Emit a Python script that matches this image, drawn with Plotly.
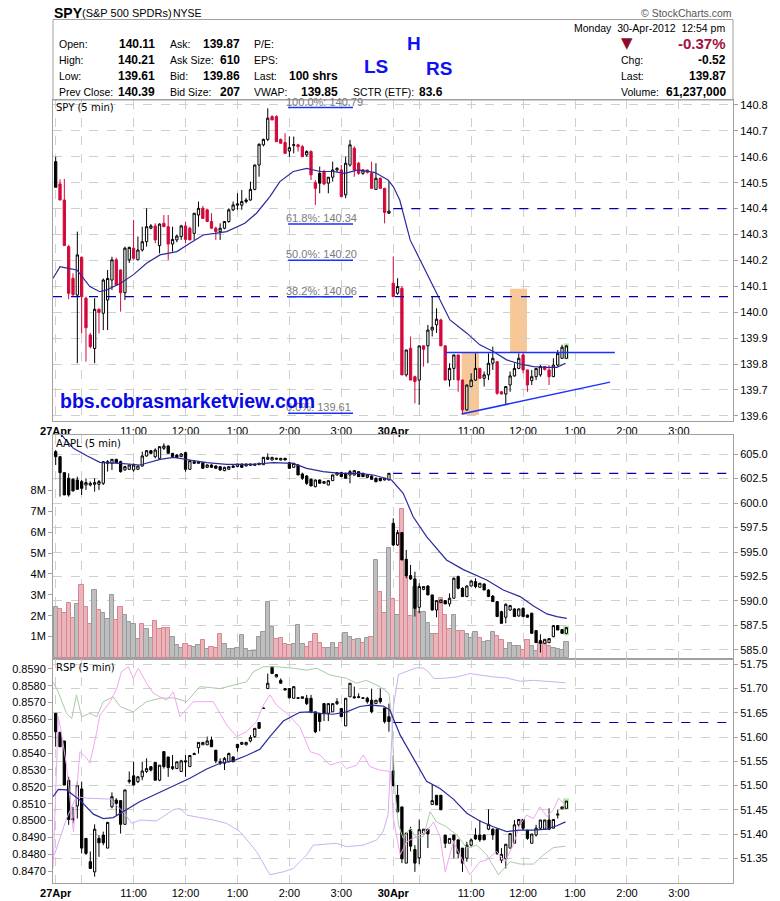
import plotly.graph_objects as go

# the page keeps an 8px body margin, so the figure is 8px smaller each way
W, H = 772, 893
OFF = 8

# ---------------- data ----------------
# x axis: 5-minute bars, 27 Apr 9:30 = bar 0, 30 Apr 9:30 = bar 78
tick_bars = [0, 6, 18, 30, 42, 54, 66, 78, 84, 96, 108, 120, 132, 144]
tick_text = ['<b>27Apr</b>', '', '11:00', '12:00', '1:00', '2:00', '3:00',
             '<b>30Apr</b>', '', '11:00', '12:00', '1:00', '2:00', '3:00']

# SPY (5 min) open, high, low, close
spy_ohlc = [
    (140.581, 140.600, 140.482, 140.482), (140.495, 140.513, 140.433, 140.433),
    (140.433, 140.514, 140.257, 140.257), (140.253, 140.260, 140.050, 140.073),
    (140.131, 140.150, 140.060, 140.068), (140.066, 140.311, 139.803, 140.221),
    (140.212, 140.215, 139.918, 140.060), (140.054, 140.060, 139.809, 139.940),
    (139.912, 139.920, 139.860, 139.867), (139.860, 140.054, 139.803, 140.011),
    (140.011, 140.015, 139.918, 139.999), (139.996, 140.130, 139.931, 140.124),
    (140.047, 140.163, 139.931, 140.130), (140.124, 140.214, 140.086, 140.202),
    (140.202, 140.210, 140.105, 140.105), (140.163, 140.165, 140.002, 140.075),
    (140.075, 140.253, 140.047, 140.247), (140.202, 140.253, 140.190, 140.250),
    (140.247, 140.356, 140.202, 140.208), (140.202, 140.292, 140.200, 140.240),
    (140.240, 140.330, 140.234, 140.272), (140.272, 140.401, 140.253, 140.330),
    (140.324, 140.340, 140.320, 140.333), (140.333, 140.343, 140.266, 140.279),
    (140.257, 140.343, 140.227, 140.340), (140.343, 140.375, 140.330, 140.330),
    (140.330, 140.375, 140.202, 140.263), (140.263, 140.330, 140.234, 140.281),
    (140.279, 140.300, 140.270, 140.294), (140.292, 140.337, 140.279, 140.333),
    (140.333, 140.350, 140.266, 140.281), (140.324, 140.330, 140.279, 140.279),
    (140.304, 140.382, 140.279, 140.382), (140.375, 140.427, 140.330, 140.401),
    (140.401, 140.410, 140.362, 140.362), (140.395, 140.400, 140.350, 140.350),
    (140.350, 140.382, 140.324, 140.324), (140.324, 140.330, 140.279, 140.311),
    (140.311, 140.343, 140.279, 140.324), (140.324, 140.350, 140.320, 140.350),
    (140.350, 140.401, 140.345, 140.395), (140.395, 140.427, 140.390, 140.414),
    (140.413, 140.459, 140.395, 140.418), (140.413, 140.472, 140.395, 140.427),
    (140.427, 140.440, 140.420, 140.433), (140.433, 140.504, 140.430, 140.474),
    (140.474, 140.570, 140.470, 140.568), (140.568, 140.652, 140.523, 140.648),
    (140.646, 140.670, 140.640, 140.667), (140.667, 140.787, 140.660, 140.749),
    (140.755, 140.760, 140.742, 140.742), (140.755, 140.760, 140.658, 140.658),
    (140.667, 140.670, 140.652, 140.652), (140.655, 140.691, 140.613, 140.613),
    (140.622, 140.678, 140.600, 140.635), (140.644, 140.678, 140.613, 140.646),
    (140.646, 140.650, 140.620, 140.639), (140.639, 140.645, 140.600, 140.600),
    (140.607, 140.625, 140.600, 140.620), (140.620, 140.625, 140.510, 140.530),
    (140.500, 140.510, 140.414, 140.478), (140.536, 140.562, 140.459, 140.498),
    (140.543, 140.550, 140.490, 140.495), (140.498, 140.521, 140.459, 140.521),
    (140.521, 140.581, 140.504, 140.549), (140.549, 140.560, 140.540, 140.555),
    (140.549, 140.568, 140.446, 140.446), (140.453, 140.600, 140.440, 140.575),
    (140.568, 140.665, 140.562, 140.646), (140.633, 140.640, 140.523, 140.549),
    (140.575, 140.580, 140.530, 140.536), (140.536, 140.550, 140.530, 140.549),
    (140.549, 140.550, 140.535, 140.540), (140.536, 140.581, 140.478, 140.478),
    (140.474, 140.575, 140.472, 140.517), (140.517, 140.520, 140.478, 140.478),
    (140.478, 140.480, 140.343, 140.385), (140.382, 140.504, 140.380, 140.390),
    # 30 Apr
    (140.112, 140.215, 140.060, 140.060), (140.073, 140.131, 140.067, 140.099),
    (140.092, 140.100, 139.758, 139.758), (139.758, 139.855, 139.751, 139.854),
    (139.861, 139.906, 139.738, 139.738), (139.751, 139.755, 139.648, 139.732),
    (139.738, 139.870, 139.642, 139.870), (139.870, 139.872, 139.790, 139.857),
    (139.870, 139.951, 139.803, 139.931), (139.931, 140.060, 139.906, 139.942),
    (139.951, 140.015, 139.920, 139.973), (139.970, 139.975, 139.870, 139.870),
    (139.870, 139.872, 139.738, 139.738), (139.738, 139.803, 139.713, 139.783),
    (139.783, 139.835, 139.738, 139.835), (139.835, 139.836, 139.693, 139.738),
    (139.738, 139.740, 139.610, 139.623), (139.623, 139.720, 139.620, 139.719),
    (139.713, 139.764, 139.710, 139.738), (139.738, 139.841, 139.735, 139.783),
    (139.783, 139.785, 139.745, 139.745), (139.745, 139.771, 139.713, 139.758),
    (139.758, 139.841, 139.738, 139.803), (139.803, 139.867, 139.777, 139.822),
    (139.809, 139.810, 139.681, 139.687), (139.693, 139.695, 139.683, 139.684),
    (139.684, 139.713, 139.642, 139.713), (139.719, 139.771, 139.693, 139.754),
    (139.754, 139.803, 139.751, 139.783), (139.783, 139.841, 139.780, 139.822),
    (139.835, 139.841, 139.764, 139.777), (139.777, 139.778, 139.693, 139.719),
    (139.736, 139.777, 139.719, 139.751), (139.751, 139.783, 139.738, 139.783),
    (139.758, 139.796, 139.751, 139.790), (139.790, 139.792, 139.775, 139.779),
    (139.777, 139.796, 139.719, 139.751), (139.751, 139.822, 139.750, 139.796),
    (139.796, 139.854, 139.790, 139.841), (139.822, 139.874, 139.820, 139.865),
    (139.822, 139.874, 139.820, 139.870),
]

spy_ma_bar = [-0.6, 1.0, 2.9, 4.9, 7.9, 10.2, 11.8, 14.9, 17.9, 21.0, 24.1, 28.0, 31.0,
              34.1, 36.8, 39.5, 43.7, 46.4, 49.5, 51.8, 54.9, 58.0, 61.1, 64.1, 66.8,
              69.9, 73.8, 76.8, 78.0, 79.5, 81.9, 85.0, 88.0, 91.1, 95.0, 98.0, 101.1,
              104.2, 107.3, 110.4, 113.5, 115.8, 117.8]
spy_ma_val = [140.131, 140.176, 140.169, 140.163, 140.099, 140.079, 140.086, 140.111,
              140.144, 140.189, 140.221, 140.234, 140.266, 140.298, 140.304, 140.311,
              140.343, 140.382, 140.446, 140.504, 140.543, 140.555, 140.543, 140.543,
              140.536, 140.549, 140.539, 140.510, 140.485, 140.433, 140.279, 140.176,
              140.073, 139.970, 139.919, 139.874, 139.848, 139.816, 139.800, 139.790,
              139.787, 139.787, 139.803]

fib_levels = [140.79, 140.34, 140.20, 140.06, 139.61]
fib_names = ['100.0%', '61.8%', '50.0%', '38.2%', '0.0%']
spy_prev_close = 140.40
neckline = 139.844
trend_bars = [93.8, 128.1]
trend_vals = [139.607, 139.730]
box_bars = [(93.8, 97.8), (105.0, 108.9)]
box_vals = [(139.603, 139.844), (139.844, 140.090)]

# AAPL (5 min)
aapl_ohlc = [
    (605.24, 605.41, 603.88, 604.73), (604.73, 604.73, 600.65, 603.10),
    (603.10, 603.10, 600.82, 600.82), (602.52, 603.03, 600.65, 600.82),
    (602.42, 602.52, 601.20, 601.23), (602.35, 602.69, 601.33, 601.40),
    (602.18, 602.35, 600.82, 601.50), (601.84, 602.52, 601.33, 602.08),
    (601.84, 602.20, 601.70, 602.01), (601.91, 602.52, 601.16, 602.08),
    (601.91, 602.35, 601.33, 602.18), (602.01, 604.22, 601.84, 604.22),
    (604.05, 604.39, 603.20, 604.22), (604.05, 604.46, 603.37, 604.46),
    (604.46, 604.50, 604.10, 604.12), (604.22, 604.32, 603.10, 603.20),
    (603.37, 603.80, 603.30, 603.71), (603.44, 603.90, 603.40, 603.88),
    (603.37, 604.05, 603.20, 603.88), (603.44, 603.80, 603.40, 603.78),
    (603.78, 605.24, 603.71, 604.80), (604.80, 605.41, 604.73, 605.34),
    (605.34, 605.40, 605.00, 605.07), (604.73, 605.58, 604.56, 605.41),
    (604.56, 605.80, 604.50, 605.75), (605.58, 606.09, 605.41, 605.82),
    (605.82, 605.90, 605.07, 605.07), (605.07, 605.10, 604.73, 604.73),
    (604.90, 605.00, 604.60, 604.66), (604.73, 605.10, 604.70, 605.00),
    (605.14, 605.24, 603.20, 603.44), (603.44, 604.40, 603.40, 604.32),
    (604.22, 604.30, 604.00, 604.05), (604.05, 604.30, 604.00, 604.22),
    (604.12, 604.20, 603.50, 603.54), (603.64, 603.95, 603.60, 603.88),
    (603.88, 603.95, 603.60, 603.64), (603.78, 603.85, 603.50, 603.54),
    (603.71, 603.75, 603.30, 603.37), (603.30, 603.70, 603.25, 603.64),
    (603.44, 603.75, 603.40, 603.71), (603.78, 603.85, 603.60, 603.64),
    (603.71, 604.00, 603.65, 603.98), (603.98, 604.00, 603.60, 603.64),
    (603.78, 604.00, 603.75, 603.98), (603.84, 604.00, 603.80, 603.98),
    (603.84, 604.00, 603.80, 603.98), (603.91, 604.10, 603.90, 604.05),
    (603.91, 604.70, 603.90, 604.66), (604.46, 605.07, 604.39, 604.66),
    (604.39, 604.70, 604.35, 604.66), (604.46, 604.60, 604.40, 604.56),
    (604.39, 604.60, 604.35, 604.56), (604.56, 604.60, 604.39, 604.39),
    (604.12, 604.20, 603.50, 603.54), (603.64, 604.10, 603.60, 604.05),
    (603.88, 603.95, 602.86, 602.86), (602.96, 603.10, 602.35, 602.52),
    (602.76, 602.86, 601.84, 602.01), (602.42, 602.50, 601.74, 601.74),
    (601.67, 602.40, 601.60, 602.35), (602.35, 602.40, 602.00, 602.01),
    (602.01, 602.20, 601.95, 602.18), (601.84, 602.30, 601.80, 602.28),
    (602.28, 602.90, 602.25, 602.86), (602.86, 603.15, 602.80, 603.10),
    (603.10, 603.15, 602.69, 602.69), (603.03, 603.10, 602.52, 602.52),
    (602.86, 603.37, 602.01, 603.20), (602.86, 603.35, 602.80, 603.30),
    (603.20, 603.25, 602.69, 602.69), (603.03, 603.10, 602.65, 602.69),
    (602.62, 602.90, 602.55, 602.86), (602.76, 602.80, 602.40, 602.42),
    (602.52, 602.60, 602.10, 602.18), (602.52, 602.55, 602.20, 602.28),
    (602.35, 602.55, 602.30, 602.52), (602.35, 603.05, 602.30, 603.03),
    # 30 Apr
    (597.93, 598.44, 595.62, 595.72), (595.72, 597.25, 595.62, 596.98),
    (596.98, 597.00, 594.19, 594.19), (594.25, 595.21, 592.32, 592.59),
    (592.59, 593.68, 592.15, 592.25), (592.25, 592.99, 588.41, 589.25),
    (589.36, 591.81, 588.75, 591.47), (591.19, 591.50, 591.10, 591.47),
    (591.53, 591.60, 590.62, 590.62), (590.62, 590.62, 589.02, 589.08),
    (589.08, 590.04, 588.34, 590.04), (589.83, 590.11, 589.80, 590.11),
    (590.04, 590.10, 589.70, 589.70), (589.70, 590.78, 589.43, 590.28),
    (590.28, 592.40, 590.28, 592.32), (592.49, 592.59, 591.19, 591.30),
    (591.30, 591.40, 590.45, 590.45), (590.45, 591.60, 590.40, 591.53),
    (591.53, 592.10, 591.50, 592.04), (591.98, 592.32, 591.30, 591.47),
    (591.40, 591.85, 591.35, 591.81), (591.74, 591.80, 591.12, 591.12),
    (591.12, 591.20, 590.40, 590.45), (590.50, 590.60, 589.90, 589.94),
    (589.94, 590.00, 588.41, 588.41), (588.91, 589.00, 587.72, 587.72),
    (588.34, 589.76, 587.72, 589.66), (589.08, 589.60, 589.00, 589.53),
    (589.19, 589.25, 588.41, 588.41), (588.47, 589.25, 588.40, 589.19),
    (589.25, 589.35, 588.41, 588.41), (588.57, 588.60, 588.34, 588.34),
    (588.75, 588.80, 586.70, 586.70), (586.98, 587.00, 585.75, 585.75),
    (585.96, 586.60, 584.73, 585.68), (585.68, 586.10, 585.60, 586.09),
    (585.75, 586.20, 585.70, 586.16), (586.36, 587.50, 586.30, 587.49),
    (587.49, 587.55, 587.04, 587.04), (587.08, 587.10, 586.70, 586.70),
    (586.70, 587.30, 586.60, 587.28),
]

# AAPL volume, millions of shares; p = down bar (pink), g = up bar (grey)
aapl_volume = [
    2.43, 2.32, 2.12, 2.60, 1.88, 2.56, 3.47, 2.43, 1.59, 3.22,
    2.26, 2.12, 1.85, 2.99, 1.80, 2.40, 2.04, 1.69, 1.59, 0.87,
    1.59, 1.35, 0.92, 1.75, 1.35, 1.40, 1.40, 0.97, 0.60, 0.44,
    0.67, 0.55, 0.52, 0.60, 0.82, 0.43, 0.49, 0.44, 1.13, 0.65,
    0.39, 0.41, 0.44, 1.06, 0.43, 0.33, 0.33, 1.00, 1.24, 2.66,
    1.45, 0.87, 0.92, 0.63, 0.58, 0.63, 1.54, 0.65, 0.52, 0.76,
    1.13, 0.68, 0.44, 0.44, 0.68, 0.44, 0.68, 1.19, 0.97, 0.82,
    0.89, 0.68, 0.92, 0.97, 4.65, 3.12, 2.15, 5.22,
    2.80, 2.04, 7.09, 3.92, 2.00, 3.36, 2.20, 2.20, 1.64, 1.11,
    1.11, 2.83, 2.04, 1.35, 2.04, 1.28, 1.28, 1.11, 0.92, 1.21,
    0.92, 0.73, 0.81, 1.21, 1.05, 0.84, 0.39, 0.68, 0.56, 0.56,
    0.36, 0.84, 0.56, 0.33, 0.68, 0.76, 0.56, 0.44, 0.39, 0.36,
    0.75,
]
aapl_vol_dir = ('gppppgpppg' 'pgggppgggg' 'pggppppggg' 'ppggpgpppg' 'gggggggggg'
                'gppppgggpp' 'pppgggpggp' 'gpgpgppg'
                'pgpppgpggg' 'ppppgppggg' 'pgggppgggg' 'ppggpppggg' 'g')

aapl_ma_bar = [1.0, 4.1, 7.2, 10.2, 14.9, 19.5, 24.1, 27.2, 31.0, 34.9, 39.5, 45.7, 50.3,
               54.9, 58.0, 61.8, 65.7, 70.3, 73.4, 77.6, 80.3, 82.6, 85.7, 90.3, 94.2,
               98.0, 99.6, 103.4, 107.3, 110.4, 113.5, 115.8, 118.1]
aapl_ma_val = [607.10, 605.58, 604.83, 604.15, 604.05, 603.88, 604.46, 604.66, 604.39,
               604.12, 603.95, 603.95, 604.12, 604.05, 603.54, 603.20, 603.03, 603.03,
               602.86, 602.35, 600.99, 598.60, 596.57, 594.19, 593.20, 592.49, 592.15,
               591.12, 590.45, 589.50, 588.68, 588.40, 588.23]
aapl_prev_close = 603.03

# RSP (5 min)
rsp_ohlc = [
    (51.649, 51.649, 51.580, 51.611), (51.610, 51.610, 51.580, 51.580),
    (51.592, 51.592, 51.501, 51.501), (51.511, 51.518, 51.419, 51.430),
    (51.432, 51.456, 51.422, 51.429), (51.458, 51.508, 51.432, 51.500),
    (51.493, 51.508, 51.360, 51.371), (51.391, 51.391, 51.357, 51.360),
    (51.343, 51.364, 51.329, 51.329), (51.322, 51.420, 51.312, 51.410),
    (51.391, 51.398, 51.353, 51.382), (51.398, 51.405, 51.377, 51.382),
    (51.371, 51.425, 51.371, 51.424), (51.456, 51.486, 51.453, 51.477),
    (51.470, 51.474, 51.439, 51.463), (51.469, 51.469, 51.401, 51.420),
    (51.420, 51.491, 51.420, 51.491), (51.508, 51.529, 51.504, 51.511),
    (51.520, 51.549, 51.500, 51.501), (51.508, 51.520, 51.505, 51.518),
    (51.518, 51.549, 51.511, 51.530), (51.529, 51.556, 51.526, 51.535),
    (51.539, 51.539, 51.529, 51.532), (51.548, 51.548, 51.511, 51.511),
    (51.511, 51.542, 51.509, 51.542), (51.570, 51.570, 51.535, 51.539),
    (51.559, 51.559, 51.518, 51.537), (51.535, 51.563, 51.532, 51.539),
    (51.535, 51.549, 51.535, 51.549), (51.529, 51.553, 51.529, 51.551),
    (51.551, 51.563, 51.518, 51.549), (51.539, 51.562, 51.539, 51.562),
    (51.566, 51.568, 51.563, 51.564), (51.578, 51.589, 51.566, 51.589),
    (51.584, 51.590, 51.584, 51.589), (51.584, 51.601, 51.584, 51.592),
    (51.594, 51.601, 51.580, 51.580), (51.573, 51.573, 51.546, 51.551),
    (51.549, 51.556, 51.542, 51.546), (51.546, 51.559, 51.532, 51.556),
    (51.549, 51.568, 51.548, 51.566), (51.559, 51.560, 51.549, 51.549),
    (51.585, 51.585, 51.570, 51.578), (51.585, 51.590, 51.584, 51.589),
    (51.584, 51.590, 51.583, 51.589), (51.592, 51.604, 51.589, 51.599),
    (51.601, 51.618, 51.598, 51.618), (51.630, 51.630, 51.618, 51.618),
    (51.660, 51.661, 51.659, 51.659), (51.700, 51.731, 51.700, 51.711),
    (51.745, 51.745, 51.731, 51.731), (51.724, 51.729, 51.723, 51.729),
    (51.717, 51.721, 51.711, 51.711), (51.700, 51.700, 51.697, 51.697),
    (51.700, 51.700, 51.680, 51.681), (51.680, 51.704, 51.680, 51.704),
    (51.681, 51.681, 51.680, 51.680), (51.683, 51.683, 51.680, 51.680),
    (51.680, 51.687, 51.666, 51.669), (51.680, 51.687, 51.649, 51.652),
    (51.652, 51.652, 51.608, 51.611), (51.649, 51.649, 51.612, 51.632),
    (51.669, 51.669, 51.633, 51.649), (51.649, 51.669, 51.633, 51.669),
    (51.652, 51.669, 51.652, 51.669), (51.669, 51.680, 51.666, 51.673),
    (51.659, 51.659, 51.642, 51.642), (51.623, 51.680, 51.623, 51.680),
    (51.683, 51.711, 51.683, 51.711), (51.683, 51.704, 51.680, 51.681),
    (51.683, 51.690, 51.680, 51.682), (51.681, 51.681, 51.680, 51.680),
    (51.680, 51.683, 51.669, 51.673), (51.676, 51.700, 51.649, 51.652),
    (51.669, 51.676, 51.669, 51.676), (51.680, 51.700, 51.669, 51.673),
    (51.660, 51.660, 51.628, 51.632), (51.642, 51.669, 51.611, 51.632),
    # 30 Apr
    (51.530, 51.562, 51.498, 51.500), (51.480, 51.501, 51.443, 51.446),
    (51.456, 51.456, 51.340, 51.349), (51.340, 51.402, 51.340, 51.402),
    (51.409, 51.415, 51.364, 51.375), (51.368, 51.377, 51.322, 51.340),
    (51.351, 51.430, 51.338, 51.409), (51.400, 51.410, 51.400, 51.410),
    (51.410, 51.410, 51.371, 51.400), (51.461, 51.502, 51.461, 51.469),
    (51.480, 51.480, 51.460, 51.460), (51.480, 51.480, 51.450, 51.450),
    (51.398, 51.398, 51.371, 51.381), (51.381, 51.391, 51.381, 51.391),
    (51.398, 51.398, 51.350, 51.388), (51.388, 51.388, 51.350, 51.360),
    (51.371, 51.371, 51.322, 51.340), (51.350, 51.384, 51.343, 51.377),
    (51.377, 51.391, 51.374, 51.388), (51.398, 51.412, 51.388, 51.390),
    (51.398, 51.429, 51.384, 51.388), (51.398, 51.400, 51.388, 51.388),
    (51.410, 51.451, 51.408, 51.420), (51.410, 51.412, 51.388, 51.398),
    (51.410, 51.412, 51.357, 51.360), (51.346, 51.371, 51.340, 51.358),
    (51.349, 51.379, 51.329, 51.379), (51.371, 51.401, 51.371, 51.401),
    (51.381, 51.429, 51.381, 51.419), (51.419, 51.430, 51.415, 51.430),
    (51.430, 51.430, 51.408, 51.412), (51.408, 51.408, 51.388, 51.391),
    (51.381, 51.400, 51.381, 51.400), (51.398, 51.419, 51.395, 51.412),
    (51.412, 51.429, 51.410, 51.429), (51.410, 51.429, 51.410, 51.429),
    (51.429, 51.453, 51.408, 51.410), (51.412, 51.430, 51.412, 51.430),
    (51.439, 51.450, 51.432, 51.441), (51.452, 51.456, 51.452, 51.456),
    (51.453, 51.468, 51.453, 51.468),
]

rsp_ma_bar = [-0.6, 0.6, 2.5, 5.6, 8.7, 11.0, 13.3, 16.4, 19.5, 22.6, 27.2, 31.0, 34.9,
              38.0, 41.0, 44.1, 47.2, 49.5, 52.6, 56.4, 58.8, 61.1, 64.1, 67.2, 70.3,
              72.6, 75.7, 77.2, 79.6, 82.6, 85.7, 88.8, 91.9, 95.0, 98.0, 101.1, 104.2,
              107.3, 110.4, 113.5, 115.8, 117.8]
rsp_ma_val = [51.477, 51.492, 51.491, 51.470, 51.441, 51.432, 51.434, 51.450, 51.467,
              51.480, 51.499, 51.515, 51.534, 51.546, 51.551, 51.562, 51.575, 51.601,
              51.633, 51.651, 51.652, 51.649, 51.647, 51.652, 51.663, 51.666, 51.664,
              51.656, 51.604, 51.556, 51.509, 51.494, 51.472, 51.443, 51.427, 51.415,
              51.405, 51.408, 51.408, 51.410, 51.417, 51.425]

rsp_green_bar = [-0.6, 0.6, 2.5, 3.7, 4.8, 6.0, 7.9, 9.5, 11.0, 13.3, 14.9, 17.9, 21.0,
                 24.1, 27.2, 30.3, 33.3, 38.0, 41.0, 44.1, 45.7, 48.0, 51.0, 54.9, 58.0,
                 60.3, 63.4, 67.2, 69.5, 71.8, 74.9, 77.0, 77.7, 78.0, 78.4, 79.2, 80.3,
                 81.9, 83.4, 85.0, 86.5, 88.0, 90.3, 92.7, 95.0, 97.3, 99.6, 102.3, 105.0,
                 107.3, 110.4, 112.7, 115.0, 117.8]
rsp_green_val = [51.714, 51.693, 51.649, 51.638, 51.687, 51.642, 51.649, 51.642, 51.673,
                 51.683, 51.663, 51.652, 51.673, 51.680, 51.681, 51.673, 51.704, 51.700,
                 51.707, 51.714, 51.735, 51.745, 51.745, 51.742, 51.738, 51.742, 51.728,
                 51.721, 51.711, 51.717, 51.704, 51.690, 51.635, 51.553, 51.487, 51.419,
                 51.391, 51.412, 51.391, 51.395, 51.446, 51.425, 51.415, 51.398, 51.371,
                 51.377, 51.357, 51.316, 51.343, 51.338, 51.338, 51.357, 51.372, 51.375]

rsp_pink_bar = [-0.6, 0.6, 1.4, 2.5, 4.1, 5.6, 7.2, 7.9, 9.5, 10.2, 12.6, 14.1, 15.2,
                16.8, 17.9, 19.1, 21.0, 22.6, 25.6, 27.2, 28.7, 31.8, 36.4, 39.5, 41.8,
                44.1, 46.4, 48.0, 49.5, 51.0, 53.4, 56.4, 58.8, 61.1, 63.4, 65.7, 67.2,
                69.5, 71.1, 72.6, 74.9, 77.2, 77.7, 78.0, 79.6, 81.1, 83.4, 85.7, 87.3,
                88.8, 90.0, 91.9, 93.8, 95.7, 98.0, 99.6, 101.9, 103.8, 105.7, 107.3,
                108.8, 110.4, 111.9, 113.5, 115.0, 116.2, 117.8]
rsp_pink_val = [51.329, 51.642, 51.604, 51.542, 51.405, 51.570, 51.556, 51.546, 51.611,
                51.645, 51.673, 51.700, 51.735, 51.745, 51.721, 51.742, 51.711, 51.690,
                51.676, 51.693, 51.642, 51.673, 51.673, 51.625, 51.601, 51.611, 51.632,
                51.666, 51.687, 51.666, 51.649, 51.621, 51.570, 51.563, 51.542, 51.549,
                51.535, 51.542, 51.563, 51.539, 51.532, 51.529, 51.491, 51.433, 51.357,
                51.384, 51.395, 51.405, 51.425, 51.395, 51.322, 51.384, 51.350, 51.316,
                51.343, 51.346, 51.364, 51.343, 51.377, 51.419, 51.439, 51.432, 51.456,
                51.436, 51.450, 51.474, 51.460]

rsp_lav_bar = [-0.3, 1.4, 2.5, 4.8, 7.2, 12.6, 15.6, 17.6, 19.5, 23.3, 27.2, 28.7, 30.3,
               33.3, 36.4, 39.5, 42.6, 46.4, 49.5, 52.6, 54.9, 56.4, 58.0, 59.5, 61.8,
               64.9, 67.2, 71.1, 74.2, 75.7, 76.8, 77.5, 78.0, 79.2, 81.9, 83.4, 85.0,
               86.1, 87.3, 89.6, 92.7, 95.7, 98.0, 101.1, 104.2, 107.3, 110.4, 113.5,
               115.8, 117.8]
rsp_lav_val = [51.357, 51.405, 51.432, 51.477, 51.474, 51.472, 51.446, 51.422, 51.429,
               51.427, 51.450, 51.453, 51.439, 51.434, 51.429, 51.422, 51.405, 51.364,
               51.316, 51.322, 51.329, 51.343, 51.357, 51.377, 51.379, 51.381, 51.374,
               51.377, 51.388, 51.406, 51.440, 51.557, 51.660, 51.729, 51.738, 51.743,
               51.742, 51.735, 51.721, 51.721, 51.724, 51.731, 51.728, 51.724, 51.722,
               51.715, 51.717, 51.715, 51.713, 51.712]
rsp_prev_close = 51.63

# header quote box
quote_labels_1 = ['Open:', 'High:', 'Low:', 'Prev Close:']
quote_values_1 = ['140.11', '140.21', '139.61', '140.39']
quote_labels_2 = ['Ask:', 'Ask Size:', 'Bid:', 'Bid Size:']
quote_values_2 = ['139.87', '610', '139.86', '207']
quote_labels_3 = ['P/E:', 'EPS:', 'Last:', 'VWAP:']
quote_values_3 = ['', '', '100 shrs', '139.85']
quote_labels_4 = ['Chg:', 'Last:', 'Volume:']
quote_values_4 = ['-0.52', '139.87', '61,237,000']

# ---------------- styling helpers ----------------
FONT = 'Liberation Sans, Arial, sans-serif'
RED = '#D2093B'
NAVY = '#2A2A9C'
DASH_BLUE = '#0000AA'
LINE_BLUE = '#1E30FF'
GRID = '#CFCFCF'
FRAME = '#A0A0A0'
X_RANGE = [-0.62, 156.5]


def px(x):
    # window pixel -> paper fraction
    return (x - OFF) / W


def py(y):
    return 1 - (y - OFF) / H


x_dom = [px(53), px(733)]
spy_dom = [py(421), py(100)]
aapl_dom = [py(659), py(435)]
rsp_dom = [py(883), py(659)]


def split(ohlc, keep):
    cols = [[], [], [], []]
    for bar, k in zip(ohlc, keep):
        for j in range(4):
            cols[j].append(bar[j] if k else None)
    return cols


def candles(ohlc, keep, color, xa, ya):
    o, h, l, c = split(ohlc, keep)
    return go.Candlestick(
        x=list(range(len(ohlc))), open=o, high=h, low=l, close=c,
        increasing=dict(line=dict(color=color, width=1), fillcolor='white'),
        decreasing=dict(line=dict(color=color, width=1), fillcolor=color),
        whiskerwidth=0, xaxis=xa, yaxis=ya, showlegend=False, hoverinfo='skip')


def line(xs, ys, color, xa, ya, width=1.2):
    return go.Scatter(x=xs, y=ys, mode='lines', line=dict(color=color, width=width),
                      xaxis=xa, yaxis=ya, showlegend=False, hoverinfo='skip')


fig = go.Figure()

# SPY: red when close is below the previous close
spy_red = [i > 0 and spy_ohlc[i][3] < spy_ohlc[i - 1][3] for i in range(len(spy_ohlc))]
fig.add_trace(line(spy_ma_bar, spy_ma_val, NAVY, 'x', 'y'))
fig.add_trace(candles(spy_ohlc, [not r for r in spy_red], 'black', 'x', 'y'))
fig.add_trace(candles(spy_ohlc, spy_red, RED, 'x', 'y'))

# AAPL volume + price
vol_fill = ['#E9B5BA' if d == 'p' else '#BEBEBE' for d in aapl_vol_dir]
vol_edge = ['#D88590' if d == 'p' else '#9A9A9A' for d in aapl_vol_dir]
fig.add_trace(go.Bar(x=list(range(len(aapl_volume))), y=aapl_volume, width=1,
                     marker=dict(color=vol_fill, line=dict(color=vol_edge, width=1)),
                     xaxis='x2', yaxis='y2', showlegend=False, hoverinfo='skip'))
fig.add_trace(line(aapl_ma_bar, aapl_ma_val, NAVY, 'x2', 'y3'))
fig.add_trace(candles(aapl_ohlc, [True] * len(aapl_ohlc), 'black', 'x2', 'y3'))

# RSP: empty trace so the left-axis subplot exists, then bands, MA and candles
fig.add_trace(go.Scatter(x=[], y=[], xaxis='x3', yaxis='y4', showlegend=False,
                         hoverinfo='skip'))
fig.add_trace(line(rsp_green_bar, rsp_green_val, '#A9CBA5', 'x3', 'y5', 1))
fig.add_trace(line(rsp_lav_bar, rsp_lav_val, '#CDB0F2', 'x3', 'y5', 1))
fig.add_trace(line(rsp_pink_bar, rsp_pink_val, '#F3A6F0', 'x3', 'y5', 1))
fig.add_trace(line(rsp_ma_bar, rsp_ma_val, NAVY, 'x3', 'y5'))
fig.add_trace(candles(rsp_ohlc, [True] * len(rsp_ohlc), 'black', 'x3', 'y5'))


def xaxis_style(labels):
    return dict(domain=x_dom, range=X_RANGE, tickvals=tick_bars, ticktext=tick_text,
                showticklabels=labels, ticks='', showgrid=True, gridcolor=GRID,
                griddash='dash', gridwidth=1, zeroline=False, showline=True, mirror=True,
                linecolor=FRAME, rangeslider=dict(visible=False), automargin=False,
                tickfont=dict(size=11, family=FONT, color='black'))


def yaxis_style(dom, rng, side, **kw):
    d = dict(domain=dom, range=rng, side=side, ticks='outside', ticklen=4,
             tickcolor=FRAME, zeroline=False, showgrid=True, gridcolor=GRID,
             griddash='dash', showline=True, mirror=True, linecolor=FRAME,
             automargin=False, tickfont=dict(size=11, family=FONT, color='black'))
    d.update(kw)
    return d


shapes = []
annotations = []

# quote box frame
shapes.append(dict(type='rect', xref='paper', yref='paper', x0=px(53), x1=px(733),
                   y0=py(100), y1=py(19.5), line=dict(color=FRAME, width=1)))

# SPY drawings
for (b0, b1), (v0, v1) in zip(box_bars, box_vals):
    shapes.append(dict(type='rect', xref='x', yref='y', x0=b0, x1=b1, y0=v0, y1=v1,
                       fillcolor='#F7C795', line=dict(width=0), layer='below'))
shapes.append(dict(type='rect', xref='x', yref='y', x0=117.4, x1=118.6, y0=139.818,
                   y1=139.880, fillcolor='#B8F0A8', line=dict(width=0), layer='below'))
shapes.append(dict(type='line', xref='x domain', yref='y', x0=0, x1=1,
                   y0=fib_levels[3], y1=fib_levels[3],
                   line=dict(color=DASH_BLUE, width=1.2, dash='dash')))
shapes.append(dict(type='line', xref='x', yref='y', x0=78, x1=X_RANGE[1],
                   y0=spy_prev_close, y1=spy_prev_close,
                   line=dict(color=DASH_BLUE, width=1.2, dash='dash')))
for lvl, name in zip(fib_levels, fib_names):
    shapes.append(dict(type='line', xref='x', yref='y', x0=53.7, x1=68.7, y0=lvl, y1=lvl,
                       line=dict(color=LINE_BLUE, width=1.5)))
    annotations.append(dict(xref='x', yref='y', x=53.0, y=lvl, text=f'{name}: {lvl:.2f}',
                            xanchor='left', yanchor='bottom', showarrow=False, yshift=-1,
                            borderpad=0,
                            font=dict(size=11, family=FONT, color='#7A7A7A')))
shapes.append(dict(type='line', xref='x', yref='y', x0=90.0, x1=129.2, y0=neckline,
                   y1=neckline, line=dict(color=LINE_BLUE, width=1.5)))
shapes.append(dict(type='line', xref='x', yref='y', x0=trend_bars[0], x1=trend_bars[1],
                   y0=trend_vals[0], y1=trend_vals[1], line=dict(color=LINE_BLUE, width=1.5)))

# AAPL / RSP drawings
shapes.append(dict(type='line', xref='x2', yref='y3', x0=78, x1=X_RANGE[1],
                   y0=aapl_prev_close, y1=aapl_prev_close,
                   line=dict(color=DASH_BLUE, width=1.2, dash='dash')))
shapes.append(dict(type='rect', xref='x2', yref='y3', x0=117.2, x1=118.6, y0=586.5,
                   y1=587.5, fillcolor='#B8F0A8', line=dict(width=0), layer='below'))
shapes.append(dict(type='line', xref='x3', yref='y5', x0=78, x1=X_RANGE[1],
                   y0=rsp_prev_close, y1=rsp_prev_close,
                   line=dict(color=DASH_BLUE, width=1.2, dash='dash')))
shapes.append(dict(type='rect', xref='x3', yref='y5', x0=117.2, x1=118.6, y0=51.450,
                   y1=51.474, fillcolor='#B8F0A8', line=dict(width=0), layer='below'))


def text(x, y, s, size=11, anchor='left', color='black', family=FONT):
    annotations.append(dict(xref='paper', yref='paper', x=px(x), y=py(y), text=s,
                            xanchor=anchor, yanchor='middle', showarrow=False,
                            borderpad=0,
                            font=dict(size=size, family=family, color=color)))


LABEL = 10.5
# titles and header
text(53, 13.5, '<b>SPY</b>', 14)
text(81, 13.5, '(S&P 500 SPDRs)', 11)
text(172, 13.5, 'NYSE', 10.5)
text(733, 13.5, '© StockCharts.com', 10.5, 'right', '#555555')
rows = [44, 60, 76, 92]
for y, a, b, c, d, e, f in zip(rows, quote_labels_1, quote_values_1, quote_labels_2,
                               quote_values_2, quote_labels_3, quote_values_3):
    text(58, y, a, LABEL)
    text(156, y, f'<b>{b}</b>', 12, 'right')
    text(169, y, c, LABEL)
    text(241, y, f'<b>{d}</b>', 12, 'right')
    text(253, y, e, LABEL)
    if f:
        text(339, y, f'<b>{f}</b>', 12, 'right')
text(352, 92, 'SCTR (ETF):', LABEL)
text(418, 92, '<b>83.6</b>', 12)
text(726, 28, 'Monday  30-Apr-2012  12:54 pm', LABEL, 'right')
text(627, 43, '▼', 15, 'center', '#8C0A2E', 'DejaVu Sans')
text(727, 44, '<b>-0.37%</b>', 15, 'right', '#A3123F')
for y, a, b in zip(rows[1:], quote_labels_4, quote_values_4):
    text(620, y, a, LABEL)
    text(727, y, f'<b>{b}</b>', 12, 'right')
text(363, 66, '<b>LS</b>', 19, 'left', '#1010F5')
text(406, 44, '<b>H</b>', 19, 'left', '#1010F5')
text(425, 68, '<b>RS</b>', 19, 'left', '#1010F5')

text(55, 107, 'SPY (5 min)', 10, family='DejaVu Sans')
text(55, 443, 'AAPL (5 min)', 10, family='DejaVu Sans')
text(55, 667, 'RSP (5 min)', 10, family='DejaVu Sans')
text(59, 401, '<b>bbs.cobrasmarketview.com</b>', 19.5, 'left', '#0A0AE6')

fig.update_layout(
    width=W, height=H, autosize=False,
    margin=dict(l=0, r=0, t=0, b=0, pad=0),
    paper_bgcolor='white', plot_bgcolor='white',
    font=dict(family=FONT, size=11, color='black'),
    showlegend=False, boxgap=0.25, bargap=0,
    xaxis=xaxis_style(True) | dict(anchor='y'),
    xaxis2=xaxis_style(False) | dict(anchor='y2', matches='x'),
    xaxis3=xaxis_style(True) | dict(anchor='y4', matches='x'),
    yaxis=yaxis_style(spy_dom, [139.58, 140.819], 'right', anchor='x',
                      tick0=139.6, dtick=0.1, tickformat='.1f'),
    yaxis2=yaxis_style(aapl_dom, [-0.07, 10.65], 'left', anchor='x2', showgrid=False,
                       tickvals=[1, 2, 3, 4, 5, 6, 7, 8],
                       ticktext=[f'{v}M' for v in range(1, 9)]),
    yaxis3=yaxis_style(aapl_dom, [584.08, 606.94], 'right', anchor='x2', overlaying='y2',
                       showline=False, tick0=585, dtick=2.5, tickformat='.1f'),
    yaxis4=yaxis_style(rsp_dom, [0.84629, 0.85959], 'left', anchor='x3', showgrid=False,
                       tickvals=[0.847 + 0.001 * i for i in range(13)], tickformat='.4f'),
    yaxis5=yaxis_style(rsp_dom, [51.299, 51.761], 'right', anchor='x3', overlaying='y4',
                       showline=False, tickvals=[51.35 + 0.05 * i for i in range(9)],
                       tickformat='.2f'),
    shapes=shapes, annotations=annotations,
)

fig.write_html('out.html')
